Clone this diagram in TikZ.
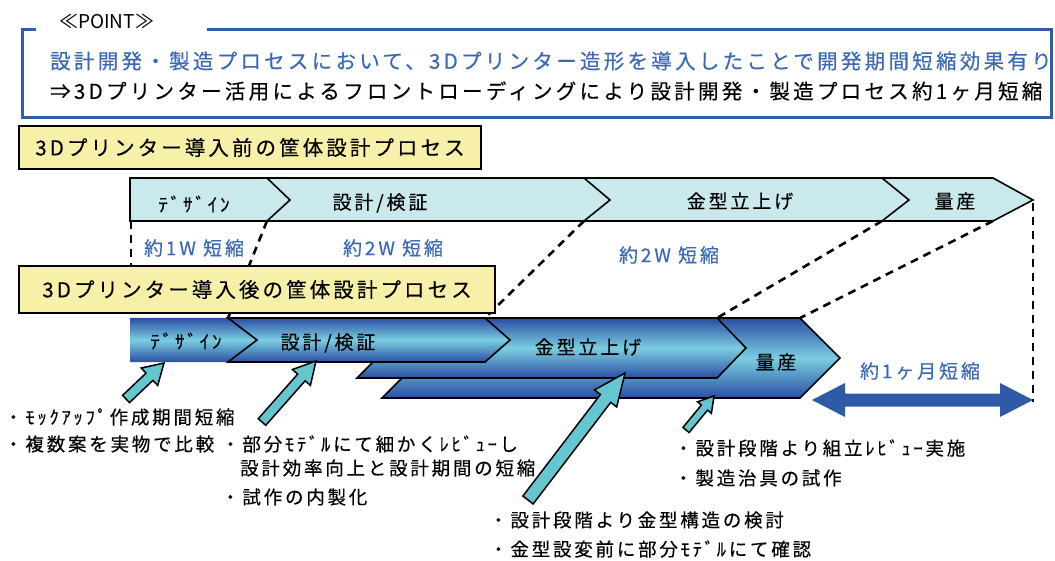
\documentclass[tikz,border=0pt]{standalone}
\usepackage{fontspec}
\setmainfont{Noto Sans CJK JP}
\newfontfamily\jpw[LetterSpace=15,FakeBold=0.3]{Noto Sans CJK JP}
\newfontfamily\jpt[LetterSpace=16,FakeBold=0.3]{Noto Sans CJK JP}
\usetikzlibrary{calc}
\definecolor{frameblue}{RGB}{47,93,168}
\definecolor{txtblue}{RGB}{58,104,181}
\definecolor{ylw}{RGB}{246,240,168}
\definecolor{topfill}{RGB}{201,233,236}
\definecolor{barD}{RGB}{44,78,163}
\definecolor{barL}{RGB}{122,206,224}
\definecolor{arrcyan}{RGB}{102,198,208}
\definecolor{dblue}{RGB}{46,90,168}
\newcommand\blockarr[5]{%
  \coordinate (ba-p) at ($(#2)!#5!(#1)$);
  \filldraw[arrowst] ($(#1)!#3!90:(#2)$) -- ($(ba-p)!#3!90:(#2)$) -- ($(ba-p)!#4!90:(#2)$) -- (#2)
    -- ($(ba-p)!#4!-90:(#2)$) -- ($(ba-p)!#3!-90:(#2)$) -- ($(#1)!#3!-90:(#2)$) -- cycle;}
\begin{document}
\begin{tikzpicture}[x=1pt,y=-1pt,
  frame/.style={draw=frameblue,line width=3pt},
  bigtxt/.style={font=\jpt\fontsize{20.5}{24}\selectfont,inner sep=0pt},
  lbl/.style={font=\jpw\fontsize{19}{22}\selectfont,inner sep=0pt},
  note/.style={font=\jpw\fontsize{18.5}{22}\selectfont,inner sep=0pt,anchor=west},
  bluetxt/.style={font=\jpw\fontsize{19}{22}\selectfont,inner sep=0pt,text=txtblue},
  ybox/.style={draw=black,line width=2pt,fill=ylw,inner sep=0pt,anchor=north west,font=\jpw\fontsize{20.5}{24}\selectfont},
  topbar/.style={draw=black,line width=1.6pt,fill=topfill,line join=miter},
  chev/.style={draw=black,line width=1.6pt,top color=barD,bottom color=barD,middle color=barL},
  dsh/.style={line width=2.6pt,dash pattern=on 8pt off 6pt},
  arrowst/.style={draw=black,line width=1.5pt,fill=arrcyan,line join=miter},
]
\useasboundingbox (0,0) rectangle (1055,561);

% POINT frame
\draw[frame] (36,30) -- (22,30) -- (22,118) -- (1051,118) -- (1051,30) -- (207,30);
\node[font=\fontsize{19}{22}\selectfont,inner sep=0pt,anchor=west] (pt) at (59,21) {≪POINT≫};
\node[bigtxt,text=txtblue,anchor=west] (l1) at (50,61) {設計開発・製造プロセスにおいて、3Dプリンター造形を導入したことで開発期間短縮効果有り};
\node[bigtxt,anchor=west] (l2) at (50,91) {⇒3Dプリンター活用によるフロントローディングにより設計開発・製造プロセス約1ヶ月短縮};

% yellow box 1
\node[ybox,minimum width=462,minimum height=43] (yb1) at (18,125) {3Dプリンター導入前の筐体設計プロセス};

% top bar
\draw[topbar] (130,178) -- (993,178) -- (1033,200) -- (993,221) -- (130,221) -- cycle;
\draw[topbar,fill=none] (267,178) -- (290,200) -- (267,221);
\draw[topbar,fill=none] (584,178) -- (610,200) -- (584,221);
\draw[topbar,fill=none] (882,178) -- (909,200) -- (882,221);
\node[lbl] (t1) at (194,204) {ﾃﾞｻﾞｲﾝ};
\node[lbl] (t2) at (380,203) {設計/検証};
\node[lbl] (t3) at (740,201) {金型立上げ};
\node[lbl] (t4) at (955,201) {量産};

\coordinate (a0) at (131,221);
\coordinate (a1) at (267,221);
\coordinate (a2) at (584,221);
\coordinate (a3) at (882,221);
\coordinate (a4) at (993,221);
\coordinate (a5) at (1033,203);
\coordinate (b0) at (131,318);
\coordinate (b1) at (228,318);
\coordinate (b2) at (485,318);
\coordinate (b3) at (717,318);
\coordinate (b4) at (800,318);
\coordinate (b5) at (1033,402);

% dashed connectors
\draw[dsh] (a0) -- (b0);
\draw[dsh] (a1) -- (b1);
\draw[dsh] (a2) -- (b2);
\draw[dsh] (a3) -- (b3);
\draw[dsh] (a4) -- (b4);
\draw[dsh] (a5) -- (b5);

\node[bluetxt] (s1) at (194,248) {約1W 短縮};
\node[bluetxt] (s2) at (393,248) {約2W 短縮};
\node[bluetxt] (s3) at (669,255) {約2W 短縮};

% yellow box 2
\node[ybox,minimum width=476,minimum height=47] (yb2) at (18,265) {3Dプリンター導入後の筐体設計プロセス};

% lower bar
\path[chev] (382,318) -- (800,318) -- (840,358) -- (800,398) -- (382,398) -- (422,358) -- cycle;
\path[chev] (357,318) -- (717,318) -- (746,348) -- (717,378) -- (357,378) -- (387,348) -- cycle;
\shade[top color=barD,bottom color=barD,middle color=barL] (130,318) -- (228,318) -- (257,340) -- (228,362) -- (130,362) -- cycle;
\path[chev] (228,318) -- (485,318) -- (510,340) -- (485,362) -- (228,362) -- (257,340) -- cycle;
\node[lbl] (u1) at (186,341) {ﾃﾞｻﾞｲﾝ};
\node[lbl] (u2) at (328,343) {設計/検証};
\node[lbl] (u3) at (588,347) {金型立上げ};
\node[lbl] (u4) at (776,362) {量産};

% double arrow
\coordinate (dl) at (812,400);
\coordinate (dr) at (1033,400);
\fill[dblue] (dl) -- ($(dl)+(33,-17)$) -- ($(dl)+(33,-6.5)$) -- ($(dr)+(-33,-6.5)$) -- ($(dr)+(-33,-17)$) -- (dr)
  -- ($(dr)+(-33,17)$) -- ($(dr)+(-33,6.5)$) -- ($(dl)+(33,6.5)$) -- ($(dl)+(33,17)$) -- cycle;
\node[bluetxt] (m1) at (920,371) {約1ヶ月短縮};

% cyan arrows
\coordinate (c1t) at (126,399);
\coordinate (c1h) at (164,363);
\coordinate (c2t) at (262,422);
\coordinate (c2h) at (316,361);
\coordinate (c3t) at (528,500);
\coordinate (c3h) at (625,373);
\coordinate (c4t) at (686,430);
\coordinate (c4h) at (714,396);
\blockarr{c1t}{c1h}{5pt}{12pt}{20pt}
\blockarr{c2t}{c2h}{5pt}{12pt}{22pt}
\blockarr{c3t}{c3h}{6.5pt}{14pt}{32pt}
\blockarr{c4t}{c4h}{4pt}{9pt}{15pt}

% notes
\node[note] (n1) at (4,417) {・ﾓｯｸｱｯﾌﾟ作成期間短縮};
\node[note] (n2) at (4,444) {・複数案を実物で比較};
\node[note] (n3) at (221,444) {・部分ﾓﾃﾞﾙにて細かくﾚﾋﾞｭｰし};
\node[note] (n4) at (240,468) {設計効率向上と設計期間の短縮};
\node[note] (n5) at (221,497) {・試作の内製化};
\node[note] (n6) at (674,448) {・設計段階より組立ﾚﾋﾞｭｰ実施};
\node[note] (n7) at (674,478) {・製造治具の試作};
\node[note] (n8) at (489,520) {・設計段階より金型構造の検討};
\node[note] (n9) at (489,549) {・金型設変前に部分ﾓﾃﾞﾙにて確認};
\end{tikzpicture}
\end{document}
